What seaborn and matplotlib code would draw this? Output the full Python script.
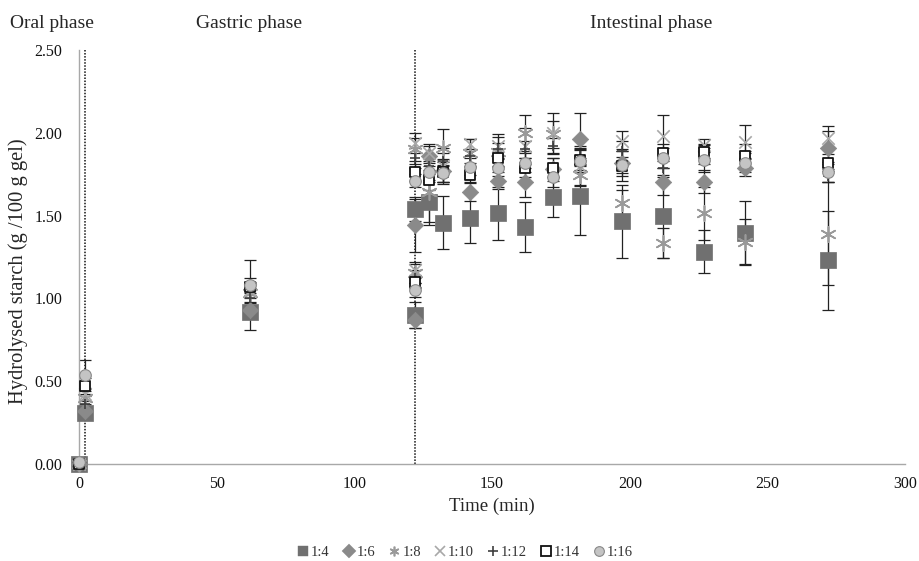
import numpy as np
import pandas as pd
import matplotlib
matplotlib.use("Agg")
import matplotlib.pyplot as plt
import seaborn as sns

# ---------------- data ----------------
time = [0, 2, 62, 122, 122, 127, 132, 142, 152, 162, 172, 182, 197, 212, 227, 242, 272]

r1_4 = [0.00, 0.31, 0.92, 0.90, 1.54, 1.58, 1.455, 1.485, 1.515, 1.43, 1.61, 1.615, 1.465, 1.495, 1.28, 1.395, 1.23]
r1_6 = [0.00, 0.32, 0.93, 0.87, 1.44, 1.86, 1.77, 1.645, 1.71, 1.70, 1.78, 1.96, 1.82, 1.705, 1.705, 1.79, 1.91]
r1_8 = [0.00, 0.40, 1.03, 1.15, 1.90, 1.645, 1.91, 1.88, 1.885, 2.00, 1.99, 1.745, 1.575, 1.335, 1.515, 1.34, 1.39]
r1_10 = [0.00, 0.42, 1.05, 1.17, 1.94, 1.88, 1.80, 1.93, 1.92, 1.92, 2.00, 1.80, 1.95, 1.98, 1.925, 1.945, 1.97]
r1_12 = [0.00, 0.36, 1.00, 1.12, 1.85, 1.80, 1.83, 1.86, 1.90, 1.90, 1.92, 1.86, 1.89, 1.79, 1.87, 1.84, 1.74]
r1_14 = [0.00, 0.47, 1.07, 1.10, 1.76, 1.715, 1.765, 1.745, 1.85, 1.79, 1.79, 1.835, 1.80, 1.88, 1.885, 1.86, 1.82]
r1_16 = [0.01, 0.54, 1.08, 1.05, 1.71, 1.765, 1.755, 1.795, 1.79, 1.82, 1.73, 1.83, 1.805, 1.85, 1.835, 1.82, 1.765]

sd1_4 = [0, 0.04, 0.11, 0.08, 0.07, 0.12, 0.16, 0.15, 0.16, 0.15, 0.12, 0.23, 0.22, 0.25, 0.13, 0.19, 0.30]
sd1_6 = [0, 0.03, 0.05, 0.05, 0.16, 0.06, 0.07, 0.06, 0.05, 0.09, 0.07, 0.16, 0.08, 0.08, 0.07, 0.05, 0.10]
sd1_8 = [0, 0.04, 0.06, 0.06, 0.07, 0.20, 0.11, 0.08, 0.09, 0.11, 0.08, 0.06, 0.08, 0.09, 0.16, 0.14, 0.31]
sd1_10 = [0, 0.04, 0.05, 0.05, 0.06, 0.05, 0.11, 0.03, 0.07, 0.11, 0.12, 0.12, 0.06, 0.13, 0.04, 0.10, 0.07]
sd1_12 = [0, 0.05, 0.06, 0.05, 0.06, 0.05, 0.05, 0.04, 0.04, 0.05, 0.05, 0.05, 0.06, 0.06, 0.06, 0.05, 0.04]
sd1_14 = [0, 0.05, 0.05, 0.04, 0.05, 0.06, 0.06, 0.05, 0.05, 0.06, 0.06, 0.06, 0.09, 0.05, 0.04, 0.07, 0.05]
sd1_16 = [0, 0.09, 0.15, 0.04, 0.04, 0.05, 0.05, 0.05, 0.05, 0.06, 0.06, 0.07, 0.05, 0.06, 0.07, 0.06, 0.06]

labels = ["1:4", "1:6", "1:8", "1:10", "1:12", "1:14", "1:16"]
means = [r1_4, r1_6, r1_8, r1_10, r1_12, r1_14, r1_16]
sds = [sd1_4, sd1_6, sd1_8, sd1_10, sd1_12, sd1_14, sd1_16]

phase_labels = ["Oral phase", "Gastric phase", "Intestinal phase"]
phase_ends = [2.2, 122]
y_ticks = [0.0, 0.5, 1.0, 1.5, 2.0, 2.5]
x_ticks = [0, 50, 100, 150, 200, 250, 300]

# ---------------- styles ----------------
styles = {
    "1:4":  dict(marker="s", s=135, color="#707070", edgecolor="#707070", lw=0.5),
    "1:6":  dict(marker="D", s=70, color="#8a8a8a", edgecolor="#8a8a8a", lw=0.5),
    "1:8":  dict(marker=(6, 2, 0), s=120, color="#9a9a9a", edgecolor="#9a9a9a", lw=1.2),
    "1:10": dict(marker="x", s=80, color="#a8a8a8", edgecolor="#a8a8a8", lw=1.2),
    "1:12": dict(marker="+", s=55, color="#404040", edgecolor="#404040", lw=1.2),
    "1:14": dict(marker="s", s=60, color="white", edgecolor="#111111", lw=1.3),
    "1:16": dict(marker="o", s=70, color="#c4c4c4", edgecolor="#888888", lw=0.8),
}

rows = []
for lab, m, sd in zip(labels, means, sds):
    for t, v, e in zip(time, m, sd):
        rows.append(dict(time=t, value=v, sd=e, ratio=lab))
df = pd.DataFrame(rows)

sns.set_style("white")
plt.rcParams["font.family"] = ["Liberation Serif", "DejaVu Serif"]

fig = plt.figure(figsize=(9.19, 5.61), dpi=100)
ax = fig.add_axes([0.086, 0.173, 0.899, 0.738])

# dotted phase separators
for xv in phase_ends:
    ax.plot([xv, xv], [0, 2.5], linestyle=(0, (1, 1)), color="#111111", lw=1.1, zorder=1)

# error bars
for lab in labels:
    d = df[df.ratio == lab]
    ax.errorbar(d["time"], d["value"], yerr=d["sd"], fmt="none", ecolor="#222222",
                elinewidth=0.9, capsize=4.5, capthick=0.9, zorder=2)

# markers
handles = []
for i, lab in enumerate(labels):
    d = df[df.ratio == lab]
    st = styles[lab]
    if st["marker"] in ("x", "+") or isinstance(st["marker"], tuple):
        sns.scatterplot(data=d, x="time", y="value", ax=ax, marker=st["marker"], s=st["s"],
                        color=st["color"], linewidth=st["lw"], zorder=3 + i, legend=False,
                        clip_on=False)
    else:
        sns.scatterplot(data=d, x="time", y="value", ax=ax, marker=st["marker"], s=st["s"],
                        color=st["color"], edgecolor=st["edgecolor"], linewidth=st["lw"],
                        zorder=3 + i, legend=False, clip_on=False)
    h = plt.Line2D([], [], linestyle="none", marker=st["marker"],
                   markersize=7 if st["marker"] != "s" or lab == "1:14" else 7.5,
                   markerfacecolor=st["color"], markeredgecolor=st["edgecolor"],
                   markeredgewidth=st["lw"] if lab not in ("1:4", "1:6") else 0.3,
                   color=st["color"], label=lab)
    handles.append(h)

ax.set_xlim(0, 300)
ax.set_ylim(0, 2.5)
ax.set_xticks(x_ticks)
ax.set_yticks(y_ticks)
ax.set_yticklabels([f"{v:.2f}" for v in y_ticks])
ax.tick_params(axis="both", direction="in", length=4, color="#a0a0a0", labelsize=11.5,
               labelcolor="#111111")
ax.tick_params(axis="y", pad=12)
ax.tick_params(axis="x", pad=9)
for side in ["top", "right"]:
    ax.spines[side].set_visible(False)
for side in ["left", "bottom"]:
    ax.spines[side].set_color("#a8a8a8")
    ax.spines[side].set_linewidth(1.0)

ax.set_xlabel("Time (min)", fontsize=13.5, labelpad=4)
ax.set_ylabel("Hydrolysed starch (g /100 g gel)", fontsize=14.8)
ax.yaxis.set_label_coords(-0.062, 0.466)

# phase titles
fig.text(0.056, 0.958, phase_labels[0], ha="center", va="center", fontsize=14)
fig.text(0.271, 0.958, phase_labels[1], ha="center", va="center", fontsize=14)
fig.text(0.709, 0.958, phase_labels[2], ha="center", va="center", fontsize=14)

leg = fig.legend(handles=handles, loc="center", bbox_to_anchor=(0.506, 0.015), ncol=7,
                 frameon=False, fontsize=10.5, handlelength=0.8, handletextpad=0.15,
                 columnspacing=0.9, borderaxespad=0)
for t in leg.get_texts():
    t.set_color("#333333")

fig.savefig("out.png", dpi=100)
